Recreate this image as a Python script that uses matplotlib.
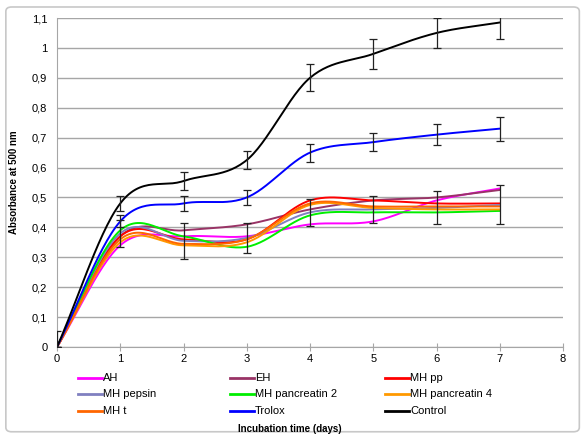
import matplotlib
matplotlib.use("Agg")
import matplotlib.pyplot as plt
import numpy as np
from matplotlib.patches import FancyBboxPatch
from matplotlib.lines import Line2D

plt.rcParams['font.family'] = ['Liberation Sans', 'DejaVu Sans']

days = [0, 1, 2, 3, 4, 5, 6, 7]

names = ["AH", "EH", "MH pp", "MH pepsin", "MH pancreatin 2",
         "MH pancreatin 4", "MH t", "Trolox", "Control"]
colors = ["#ff00ff", "#993366", "#ff0000", "#8080c0", "#00ee00",
          "#ff9900", "#ff6600", "#0000ff", "#000000"]

ah = [0, 0.34, 0.37, 0.37, 0.41, 0.42, 0.49, 0.53]
eh = [0, 0.37, 0.39, 0.41, 0.46, 0.49, 0.50, 0.525]
mh_pp = [0, 0.37, 0.36, 0.36, 0.49, 0.49, 0.48, 0.48]
mh_pepsin = [0, 0.38, 0.355, 0.365, 0.45, 0.46, 0.465, 0.475]
mh_panc2 = [0, 0.39, 0.37, 0.335, 0.44, 0.45, 0.45, 0.455]
mh_panc4 = [0, 0.35, 0.34, 0.35, 0.475, 0.465, 0.46, 0.46]
mh_t = [0, 0.36, 0.345, 0.36, 0.48, 0.47, 0.47, 0.47]
trolox = [0, 0.42, 0.48, 0.50, 0.65, 0.685, 0.71, 0.73]
control = [0, 0.48, 0.555, 0.625, 0.90, 0.98, 1.05, 1.085]

control_err = [0.055, 0.025, 0.03, 0.03, 0.045, 0.05, 0.05, 0.055]
trolox_err = [0, 0.02, 0.025, 0.025, 0.03, 0.03, 0.035, 0.04]
pepsin_err = [0, 0.045, 0.06, 0.05, 0.045, 0.045, 0.055, 0.065]

series = [ah, eh, mh_pp, mh_pepsin, mh_panc2, mh_panc4, mh_t, trolox, control]
errs = {3: pepsin_err, 7: trolox_err, 8: control_err}


def smooth(x, y, n=30):
    # catmull-rom style curve through the points, like excel smoothed lines
    x = np.asarray(x, float)
    y = np.asarray(y, float)
    px = np.concatenate([[2 * x[0] - x[1]], x, [2 * x[-1] - x[-2]]])
    py = np.concatenate([[2 * y[0] - y[1]], y, [2 * y[-1] - y[-2]]])
    xs, ys = [], []
    t = np.linspace(0, 1, n)
    for i in range(1, len(px) - 2):
        for p, out in ((px, xs), (py, ys)):
            p0, p1, p2, p3 = p[i - 1], p[i], p[i + 1], p[i + 2]
            out.extend(0.5 * ((2 * p1) + (-p0 + p2) * t
                              + (2 * p0 - 5 * p1 + 4 * p2 - p3) * t ** 2
                              + (-p0 + 3 * p1 - 3 * p2 + p3) * t ** 3))
    return xs, ys


W, H = 584, 437
fig = plt.figure(figsize=(W / 100, H / 100), dpi=100)
fig.patches.append(FancyBboxPatch((0.01, 0.012), 0.982, 0.972,
                                  boxstyle="round,pad=0,rounding_size=0.01",
                                  transform=fig.transFigure, fill=False,
                                  edgecolor="#c8c8c8", linewidth=1.2))

ax = fig.add_axes([57 / W, 1 - 347 / H, (563 - 57) / W, (347 - 18) / H])

for i, (vals, col) in enumerate(zip(series, colors)):
    sx, sy = smooth(days, vals)
    ax.plot(sx, sy, color=col, linewidth=1.4, zorder=3 + i * 0.01)
    if i in errs:
        ax.errorbar(days, vals, yerr=errs[i], fmt="none", ecolor="#222222",
                    elinewidth=0.9, capsize=3, capthick=0.9, zorder=5)

ax.set_xlim(0, 8)
ax.set_ylim(0, 1.1)
yt = np.round(np.arange(0, 1.11, 0.1), 1)
ax.set_yticks(yt)
ax.set_yticklabels([("%g" % v).replace(".", ",") for v in yt], fontsize=8)
ax.set_xticks(range(9))
ax.set_xticklabels([str(v) for v in range(9)], fontsize=8)
ax.yaxis.grid(True, color="#a6a6a6", linewidth=1.0)
ax.set_axisbelow(True)
for s in ("top", "right"):
    ax.spines[s].set_visible(False)
for s in ("left", "bottom"):
    ax.spines[s].set_color("#a6a6a6")
ax.tick_params(axis="x", direction="inout", length=6, color="#a6a6a6", pad=2)
ax.tick_params(axis="y", length=0, pad=7)

ax.set_ylabel("Absorbance at 500 nm", fontsize=7, fontweight="bold")
ax.yaxis.set_label_coords(-0.075, 0.5)

# legend laid out row by row in three columns, like the original
col_x = [78, 230, 385]
row_y = [378, 394, 411]
for k, (name, col) in enumerate(zip(names, colors)):
    x0 = col_x[k % 3]
    y0 = row_y[k // 3]
    fig.add_artist(Line2D([x0 / W, (x0 + 24) / W], [1 - y0 / H, 1 - y0 / H],
                          color=col, linewidth=2, transform=fig.transFigure))
    fig.text((x0 + 25) / W, 1 - y0 / H, name, fontsize=8,
             ha="left", va="center")

fig.text(290 / W, 1 - 429 / H, "Incubation time (days)", fontsize=7,
         fontweight="bold", ha="center", va="center")

fig.savefig("out.png", dpi=100)
